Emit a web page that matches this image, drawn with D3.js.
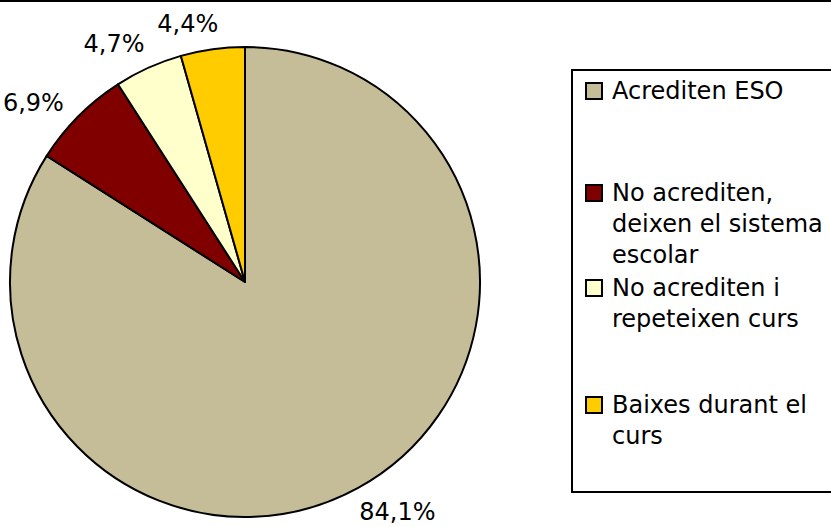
<!DOCTYPE html>
<html>
<head>
<meta charset="utf-8">
<script src="https://cdn.jsdelivr.net/npm/d3@7"></script>
<style>
  body { margin: 0; background: #fff; }
  svg { display: block; }
  text { font-family: "DejaVu Sans", sans-serif; fill: #000; }
</style>
</head>
<body>
<div class="container"></div>
<script>
(function(){

    // data
    var categories = ["Acrediten ESO", "No acrediten, deixen el sistema escolar", "No acrediten i repeteixen curs", "Baixes durant el curs"];
    var legendLines = [["Acrediten ESO"], ["No acrediten,", "deixen el sistema", "escolar"], ["No acrediten i", "repeteixen curs"], ["Baixes durant el", "curs"]];
    var values = [84.1, 6.9, 4.7, 4.4];
    var labels = ["84,1%", "6,9%", "4,7%", "4,4%"];
    var colors = ["#C4BD97", "#800000", "#FFFFCC", "#FFCC00"];

    var W = 831, H = 527;
    var cx = 245, cy = 282, r = 235;

    var svg = d3.select(".container").append("svg")
        .attr("width", W)
        .attr("height", H);

    // top border of the chart area
    svg.append("line")
        .attr("x1", 0).attr("x2", W)
        .attr("y1", 1).attr("y2", 1)
        .attr("stroke", "#000")
        .attr("stroke-width", 2);

    var pie = d3.pie().sort(null).value(function(d) { return d; });
    var arcs = pie(values);

    var arc = d3.arc().innerRadius(0).outerRadius(r);

    var g = svg.append("g").attr("transform", "translate(" + cx + "," + cy + ")");

    g.selectAll("path")
        .data(arcs)
        .enter().append("path")
        .attr("d", arc)
        .attr("fill", function(d, i) { return colors[i]; })
        .attr("stroke", "#000")
        .attr("stroke-width", 2)
        .attr("stroke-linejoin", "round");

    // percentage labels outside the pie, box edge kept a fixed gap from the rim
    var labelR = 247, shift = -0.08;
    g.selectAll("text.pct")
        .data(arcs)
        .enter().append("text")
        .attr("class", "pct")
        .attr("font-size", 24)
        .attr("text-anchor", "middle")
        .attr("dominant-baseline", "central")
        .text(function(d, i) { return labels[i]; })
        .each(function(d) {
            var t = (d.startAngle + d.endAngle) / 2 + shift;
            var w = this.getComputedTextLength(), h = 22;
            var dist = labelR + w / 2 * Math.abs(Math.sin(t)) + h / 2 * Math.abs(Math.cos(t));
            var y = Math.min(-dist * Math.cos(t), H - cy - 15);  // keep inside the frame
            d3.select(this)
                .attr("x", dist * Math.sin(t))
                .attr("y", y);
        });

    // legend
    var lx = 572, ly = 70, lh = 422, lineH = 31;
    svg.append("rect")
        .attr("x", lx).attr("y", ly)
        .attr("width", W - lx + 10).attr("height", lh)
        .attr("fill", "#fff")
        .attr("stroke", "#000")
        .attr("stroke-width", 2);

    var entryY = [91, 193, 288, 405];

    var items = svg.selectAll("g.item")
        .data(categories)
        .enter().append("g")
        .attr("class", "item")
        .attr("transform", function(d, i) { return "translate(" + lx + "," + entryY[i] + ")"; });

    items.append("rect")
        .attr("x", 14).attr("y", -8)
        .attr("width", 16).attr("height", 16)
        .attr("fill", function(d, i) { return colors[i]; })
        .attr("stroke", "#000")
        .attr("stroke-width", 2);

    items.selectAll("text")
        .data(function(d, i) { return legendLines[i]; })
        .enter().append("text")
        .attr("x", 40)
        .attr("y", function(d, j) { return j * lineH; })
        .attr("font-size", 24)
        .attr("dominant-baseline", "central")
        .text(function(d) { return d; });

})();
</script>
</body>
</html>
